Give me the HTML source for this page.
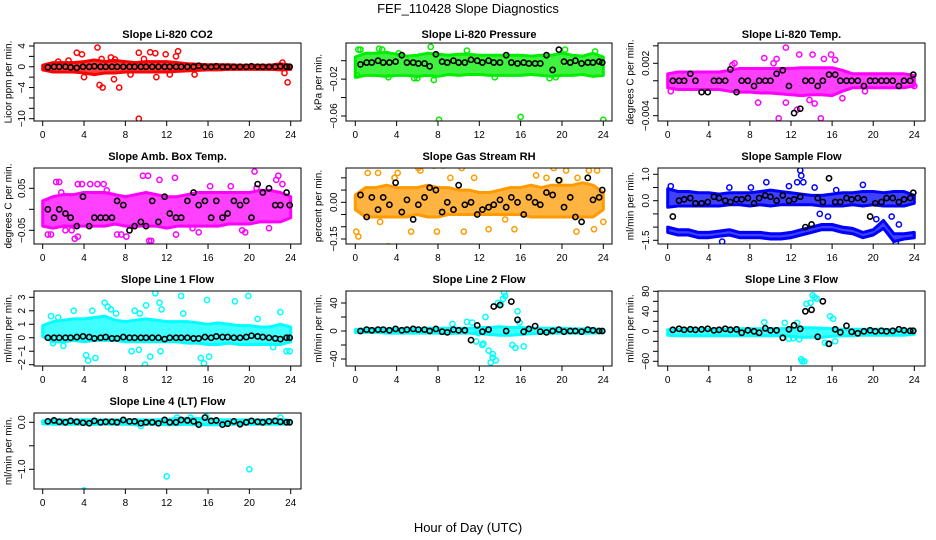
<!DOCTYPE html>
<html><head><meta charset="utf-8"><style>
body{margin:0;background:#fff}
svg{display:block;font-family:"Liberation Sans",Arial,sans-serif}
</style></head><body>
<svg id="chart" width="936" height="540" viewBox="0 0 936 540">
<text x="468" y="13" text-anchor="middle" font-size="13">FEF_110428  Slope Diagnostics</text>
<text x="468" y="532" text-anchor="middle" font-size="13">Hour of Day (UTC)</text>
</svg>
<script>
// shared time stamps of black summary points
const blackHours=[0.5,1.1,1.6,2.2,2.7,3.3,3.9,4.5,5.0,5.6,6.1,6.7,7.2,7.8,8.4,8.9,9.5,10.0,10.6,11.2,11.8,12.3,12.9,13.4,14.0,14.6,15.1,15.7,16.3,16.8,17.4,17.9,18.5,19.1,19.7,20.2,20.8,21.3,21.9,22.5,23.0,23.6,23.9];
const bandHours=[0,1,2,3,4,5,6,7,8,9,10,11,12,13,14,15,16,17,18,19,20,21,22,23,24];
const xTicks=[0,4,8,12,16,20,24];

// P1 CO2
const co2Lo=[-0.6,-1,-1,-1,-1.2,-1.5,-1.2,-1.2,-1,-1,-1,-1,-1,-0.9,-0.8,-0.7,-0.6,-0.6,-0.5,-0.5,-0.5,-0.5,-0.5,-0.6,-0.5];
const co2Hi=[0.3,0.8,0.8,0.8,1,1.3,1,1.2,1,0.8,1,1,1,0.8,0.6,0.5,0.4,0.4,0.4,0.3,0.3,0.3,0.3,0.6,0.3];
const co2OutX=[3.3,3.8,5.3,5.5,5.8,7.4,6.9,9.3,9.3,10.4,10.9,11.9,13.1,12.9,11,14.7,23.2,23.4,23.7,4,6.6,5.7,8.5,12.3,1.5,2.5,7,9.8];
const co2OutY=[2.7,2.4,3.7,-3.5,-4,-4,-2.4,2.7,-10,2.8,2.6,2.4,3,2,-2,-1.5,0.8,-1.2,-3,-2,1.8,1.5,-1.5,-1.5,1,1.2,1.4,1.5];
const co2Black=[-0.1,0,0,0,-0.1,-0.2,0,0,0.1,0,0,0,0,0,0,0,0,0,0,0,0,0,0,0,0,0,0.2,0,0,0.1,0,0,0,0,0,0.1,0,0,0,0,0.1,0,0];
const co2Ticks=[4,2,0,-2,-4,-6,-8,-10];const co2Labels=[4,0,-4,-10];

// P2 Pressure
const presLo=[-0.018,-0.016,-0.016,-0.017,-0.016,-0.016,-0.017,-0.016,-0.017,-0.015,-0.016,-0.015,-0.015,-0.016,-0.016,-0.016,-0.016,-0.015,-0.016,-0.017,-0.016,-0.016,-0.015,-0.017,-0.016];
const presHi=[0.004,0.008,0.008,0.009,0.007,0.005,0.006,0.008,0.007,0.006,0.007,0.007,0.006,0.006,0.006,0.006,0.006,0.005,0.006,0.006,0.008,0.006,0.005,0.008,0.004];
const presOutX=[0.3,0.5,2.3,2.6,7.3,8.1,16,24,7.6,5.7,13.5,18.8,20.3,23.2,3.2,0.2,4.2,10.8,19.4,6];
const presOutY=[0.012,0.012,0.013,0.012,0.015,-0.064,-0.061,-0.064,-0.021,-0.019,-0.018,-0.019,0.012,0.01,-0.018,-0.016,0.008,0.011,-0.018,-0.019];
const presBlack=[-0.004,-0.002,-0.002,0,-0.002,-0.002,-0.001,0.006,-0.002,-0.002,-0.003,-0.003,-0.006,0.007,-0.001,-0.002,0,-0.002,-0.002,0.001,0,-0.002,0,-0.002,-0.002,0.006,-0.002,-0.003,-0.002,-0.003,-0.003,-0.003,0.006,-0.010,0.012,-0.001,-0.002,0,-0.003,-0.002,-0.002,-0.001,-0.002];
const presTicks=[0,-0.02,-0.04,-0.06];const presLabels=[-0.02,-0.06];

// P3 Li-820 Temp
const ltLo=[-0.0008,-0.001,-0.001,-0.001,-0.001,-0.001,-0.0012,-0.0013,-0.0013,-0.0014,-0.0014,-0.0015,-0.0016,-0.0017,-0.0016,-0.0016,-0.0017,-0.0012,-0.0008,-0.0008,-0.0008,-0.0008,-0.0008,-0.0008,-0.0006];
const ltHi=[0.0008,0.001,0.001,0.001,0.001,0.001,0.0012,0.0014,0.0014,0.0014,0.0014,0.0014,0.0014,0.0015,0.0015,0.0015,0.0015,0.0012,0.0008,0.0008,0.0008,0.0008,0.0008,0.0008,0.0006];
const ltOutX=[0.3,6.5,9.4,10.3,10.6,11.5,12.8,14.1,15.2,15.9,12.6,10.8,14.9,8.8,11.5,14.3,17,19.2,24,16.3,6.3,13.8];
const ltOutY=[-0.0012,0.002,0.0026,0.002,0.0025,0.0038,0.003,0.003,0.0025,0.003,-0.0033,-0.0043,-0.0043,-0.0025,-0.0025,-0.0026,-0.002,-0.0012,-0.0006,0.0024,0.0018,-0.0022];
const ltBlack=[0,0,0,0.0008,0,-0.0013,-0.0013,0,0,0,0.0013,-0.0013,0,0,-0.0006,0,0,0,0.0008,0.0012,-0.0006,-0.0037,-0.0032,0,0,-0.0006,0,0.0007,0.0007,0,0,0,0,-0.0006,0,0,0,0,0,-0.0006,0,0,0.0007];
const ltTicks=[0.004,0.002,0,-0.002,-0.004];const ltLabels=[0.002,-0.004];

// P4 Amb box temp
const abLo=[-0.04,-0.045,-0.04,-0.04,-0.04,-0.04,-0.04,-0.035,-0.04,-0.04,-0.04,-0.04,-0.045,-0.04,-0.04,-0.04,-0.04,-0.04,-0.035,-0.035,-0.035,-0.03,-0.03,-0.03,-0.02];
const abHi=[0.02,0.03,0.035,0.035,0.04,0.04,0.04,0.035,0.03,0.035,0.04,0.035,0.03,0.03,0.035,0.04,0.04,0.04,0.04,0.04,0.04,0.045,0.045,0.04,0.03];
const abOutX=[0.5,0.8,1.3,1.6,1.8,3.4,3.8,4.6,5.3,5.9,6.2,7.6,9.7,10.2,10.5,11.3,12.8,2.2,2.8,3.4,7.2,8.1,10.3,12.9,15.1,19.3,19.6,20.5,21.9,22.6,22.8,23.2,20.7,3.1,14.5,16.2,18.2];
const abOutY=[-0.06,-0.06,0.065,0.065,0.04,0.06,0.06,0.06,0.06,0.06,0.045,-0.06,0.08,0.08,-0.075,0.07,0.075,-0.05,-0.05,-0.065,-0.06,-0.065,-0.075,-0.06,-0.055,-0.05,-0.055,0.09,-0.045,0.07,0.08,0.06,0.05,-0.07,-0.045,0.055,0.055];
const abBlack=[0,-0.02,0,-0.01,-0.02,-0.04,0.03,-0.04,-0.02,-0.02,-0.02,-0.02,0.02,0.01,-0.05,-0.04,-0.03,-0.04,0.02,-0.03,0.03,-0.01,-0.02,-0.02,0.02,0.04,0.01,0.02,-0.02,0.02,-0.02,-0.01,0.02,0.01,0.02,-0.02,0.06,0.04,0.05,0.01,0.01,0.04,0.01];
const abTicks=[0.05,0,-0.05];const abLabels=[0.05,-0.05];

// P5 RH
const rhLo=[-0.03,-0.06,-0.06,-0.06,-0.06,-0.06,-0.05,-0.06,-0.06,-0.05,-0.05,-0.05,-0.05,-0.05,-0.05,-0.05,-0.05,-0.06,-0.06,-0.06,-0.06,-0.06,-0.06,-0.06,-0.03];
const rhHi=[0.03,0.06,0.06,0.07,0.06,0.06,0.06,0.07,0.06,0.06,0.05,0.05,0.04,0.04,0.05,0.06,0.06,0.07,0.06,0.07,0.07,0.07,0.08,0.07,0.04];
const rhOutX=[0.1,0.3,1.2,2.2,2.4,3.2,3.8,4.1,5.4,6.1,6.3,7.6,7.9,8.5,9.2,10.3,10.5,11.5,12.9,13.8,14.5,15.4,17.5,18.5,19.2,19.8,20.4,20.8,21.4,21.5,22.6,23.1,23.4,24,3.8];
const rhOutY=[-0.12,-0.14,0.12,0.12,-0.08,-0.18,0.1,0.12,-0.12,0.14,0.13,0.15,-0.12,0.15,0.1,0.14,-0.12,0.1,-0.11,0.17,-0.07,-0.11,0.11,0.1,0.14,0.09,0.13,0.18,-0.12,0.1,0.13,-0.11,0.13,-0.08,0.1];
const rhBlack=[0.03,-0.06,0.02,-0.03,0.02,-0.01,0.08,-0.04,0.01,-0.07,-0.01,0.02,0.06,0.05,-0.04,0,-0.03,0.07,-0.01,0,-0.05,-0.03,-0.02,-0.01,0.01,-0.02,0.02,0,-0.05,0.02,0,-0.01,0.04,0.03,0.09,-0.02,0.02,-0.06,-0.08,0.1,0.01,0.02,0.05];
const rhTicks=[0.1,0.05,0,-0.05,-0.1,-0.15];const rhLabels=[0,-0.15];

// P6 Sample flow (two bands)
const sfLo=[-0.25,-0.2,-0.2,-0.2,-0.2,-0.2,-0.15,-0.15,-0.2,-0.15,-0.2,-0.15,-0.15,-0.15,-0.15,-0.2,-0.2,-0.2,-0.15,-0.2,-0.15,-0.2,-0.2,-0.2,-0.1];
const sfHi=[0.45,0.35,0.35,0.3,0.3,0.25,0.3,0.3,0.3,0.35,0.4,0.35,0.3,0.25,0.2,0.2,0.25,0.3,0.3,0.35,0.35,0.3,0.35,0.35,0.2];
const sfLo2=[-1.2,-1.3,-1.3,-1.4,-1.4,-1.35,-1.3,-1.4,-1.4,-1.4,-1.45,-1.45,-1.4,-1.3,-1.2,-1.1,-1.1,-1.2,-1.25,-1.4,-1.3,-1.05,-1.55,-1.45,-1.4];
const sfHi2=[-1.0,-1.1,-1.1,-1.2,-1.2,-1.15,-1.1,-1.2,-1.2,-1.2,-1.25,-1.25,-1.2,-1.1,-1.0,-0.9,-0.9,-1.0,-1.05,-1.2,-1.1,-0.75,-1.25,-1.25,-1.2];
const sfOutX=[5.3,9.6,12.9,13,13.2,12.6,14.3,14.8,15.6,16.4,19,21.8,22.2,22.5,20.3,6,8.1,11.8,0.3];
const sfOutY=[-1.55,0.7,1.15,0.95,0.7,0.7,0.5,-0.5,-0.6,0.4,0.6,-0.6,-1.6,-0.9,-0.7,0.5,0.5,0.55,0.55];
const sfBlack=[-0.6,0,0.05,0.1,-0.1,-0.1,-0.05,0.15,0.1,0,-0.05,0.05,0.05,0.1,-0.1,0.1,0.2,0.15,0,0.2,0,0.05,0.15,-1.0,-0.9,0.1,-0.05,0.85,-0.05,-0.05,0.1,0.05,0.1,0.05,-0.6,-0.1,-0.05,0.1,0.1,-0.05,0.05,0.1,0.3];
const sfTicks=[1,0.5,0,-0.5,-1,-1.5];const sfLabels=[1,0,-1.5];

// P7 Line 1
const l1Lo=[0.1,-0.3,-0.3,-0.2,-0.3,-0.2,-0.2,-0.2,-0.3,-0.3,-0.3,-0.3,-0.3,-0.3,-0.4,-0.4,-0.5,-0.5,-0.4,-0.5,-0.5,-0.5,-0.5,-0.5,-0.3];
const l1Hi=[0.9,1.2,1.3,1.4,1.4,1.5,1.6,1.3,1.2,1.3,1.4,1.3,1.2,1.2,1.2,1.1,1.0,1.1,1.0,0.9,0.9,0.8,0.8,1.0,0.8];
const l1OutX=[0.8,1.5,3,4.2,4.4,4.8,5.1,6,6.3,6.6,7.1,8.6,8.9,9.4,9.9,10,10.4,10.9,11.3,11.5,11.4,13.4,13.6,15.3,15.6,15.9,16.1,18.6,19.9,20.8,23,22.3,23.6,23.9,2,9.3,1];
const l1OutY=[1.6,1.5,2,-1.3,-1.7,2,-1.5,2.6,2.3,2.1,1.8,-1,2,1.8,-2,2.4,-1.4,3.3,2.6,2.1,-1,3.1,1.8,-1.5,-1.9,2.8,-1.4,2.7,3.1,1.4,1.9,-0.7,-1,-1,-0.6,-0.9,-0.4];
const l1Black=[0,0,0,0,0,0.05,0.1,0.05,-0.05,0,0.05,-0.05,-0.05,0.05,0,0,0,0,0,0,-0.1,0,0,0,0,-0.05,-0.05,0.05,0,0.1,0.05,0.05,0,0,0.05,0.15,0.1,0.05,0,-0.05,-0.1,0,0];
const l1Ticks=[3,2,1,0,-1,-2];const l1Labels=[3,2,1,0,-1,-2];

// P8 Line 2
const l2Lo=[-2,-2,-2,-3,-3,-3,-3,-3,-3,-4,-3,-3,-4,-5,-6,-6,-5,-4,-3,-3,-3,-3,-3,-3,-2];
const l2Hi=[2,3,3,3,3,3,3,4,4,4,4,4,5,5,6,5,5,4,4,4,4,3,3,3,2];
const l2OutX=[9.4,10.8,11.3,11.7,12.3,12.6,12.9,13.1,13.3,13.6,13.8,14.1,14.3,14.5,14.4,15.2,15.5,15.7,15.9,16.3,12.4,13.3,11.9];
const l2OutY=[10,13,12,-15,-20,20,-28,-45,-33,-42,40,38,46,50,55,-20,-24,28,12,-22,-18,-38,-3];
const l2Black=[0,2,1,2,2,1,3,1,2,3,2,2,0,3,-1,-2,2,1,1,-13,8,-1,2,35,37,0,42,16,-1,3,7,-1,-2,0,2,-1,0,0,-1,2,1,0,0];
const l2Ticks=[40,20,0,-20,-40];const l2Labels=[40,0,-40];

// P9 Line 3
const l3Lo=[-8,-9,-9,-9,-9,-9,-9,-9,-9,-9,-9,-9,-10,-12,-12,-12,-10,-9,-9,-8,-8,-8,-8,-8,-6];
const l3Hi=[3,4,4,4,4,4,4,5,5,5,5,5,6,7,7,6,5,4,4,4,4,4,3,3,2];
const l3OutX=[9.4,11.4,11.8,12.6,12.8,13,13.1,13.3,13.5,13.9,14.1,14.3,14.5,15.3,15.6,15.8,16.1,16.3,12.2];
const l3OutY=[18,17,-15,17,-16,-56,-60,-60,55,57,72,68,65,-23,-25,30,25,-20,-14];
const l3Black=[3,5,3,4,3,4,5,2,3,5,3,4,-3,2,0,-3,6,2,2,-13,4,12,5,40,43,-11,60,-25,4,-2,11,-1,-4,0,2,0,1,0,1,4,2,1,1];
const l3Ticks=[80,60,40,20,0,-20,-40,-60];const l3Labels=[80,40,0,-60];

// P10 Line 4
const l4Lo=[-0.03,-0.04,-0.04,-0.04,-0.04,-0.04,-0.04,-0.04,-0.04,-0.05,-0.04,-0.04,-0.05,-0.05,-0.04,-0.05,-0.05,-0.05,-0.04,-0.04,-0.04,-0.04,-0.04,-0.04,-0.03];
const l4Hi=[0.03,0.05,0.05,0.05,0.05,0.05,0.05,0.05,0.05,0.05,0.05,0.05,0.06,0.08,0.08,0.08,0.07,0.05,0.05,0.05,0.05,0.05,0.05,0.06,0.04];
const l4OutX=[4,12,20,13,14.3,15.8,23,9.5];
const l4OutY=[-1.45,-1.15,-1.0,0.1,0.1,0.12,0.1,-0.08];
const l4Black=[0.02,0.04,0.01,0,0.03,0.01,-0.01,-0.02,0.03,0,0.01,0.01,0,0.05,0.02,0.02,-0.02,0,0,-0.02,0.05,0,0,0.05,0.04,0.02,-0.05,0.1,0.03,0.04,-0.05,-0.03,0.02,-0.04,0,0.03,0.01,0,0.02,0.03,0.01,0,0];
const l4Ticks=[0,-0.5,-1];const l4Labels=[0,-1];

const cols=[{l:34,r:301,x0:42.7,x24:290.7,yl:9},{l:346,r:612,x0:355.3,x24:603.3,yl:319},{l:658,r:925,x0:667.7,x24:914.3,yl:631}];
const rows=[{t:43,b:121,ty:38},{t:168,b:244,ty:160},{t:291,b:366,ty:283},{t:413,b:489,ty:405}];

const panels=[
 {name:'co2',title:'Slope Li-820 CO2',ylab:'Licor ppm per min.',c:0,r:0,col:'#ff0000',ref:[4,46,-10,118.7],lo:co2Lo,hi:co2Hi,ox:co2OutX,oy:co2OutY,k:co2Black,ticks:co2Ticks,labels:co2Labels,dec:0},
 {name:'pressure',title:'Slope Li-820 Pressure',ylab:'kPa per min.',c:1,r:0,col:'#00ee00',ref:[0,60.7,-0.06,116],lo:presLo,hi:presHi,ox:presOutX,oy:presOutY,k:presBlack,ticks:presTicks,labels:presLabels,dec:2},
 {name:'li820-temp',title:'Slope Li-820 Temp.',ylab:'degrees C per min.',c:2,r:0,col:'#ff00ff',ref:[0.002,63.3,-0.004,115.7],lo:ltLo,hi:ltHi,ox:ltOutX,oy:ltOutY,k:ltBlack,ticks:ltTicks,labels:ltLabels,dec:3},
 {name:'amb-box-temp',title:'Slope Amb. Box Temp.',ylab:'degrees C per min.',c:0,r:1,col:'#ff00ff',ref:[0.05,188.3,-0.05,230.3],lo:abLo,hi:abHi,ox:abOutX,oy:abOutY,k:abBlack,ticks:abTicks,labels:abLabels,dec:2},
 {name:'gas-stream-rh',title:'Slope Gas Stream RH',ylab:'percent per min.',c:1,r:1,col:'#ff9a00',ref:[0,202.3,-0.15,239],lo:rhLo,hi:rhHi,ox:rhOutX,oy:rhOutY,k:rhBlack,ticks:rhTicks,labels:rhLabels,dec:2},
 {name:'sample-flow',title:'Slope Sample Flow',ylab:'ml/min per min.',c:2,r:1,col:'#0000ff',ref:[1,174.3,-1.5,240.3],lo:sfLo,hi:sfHi,lo2:sfLo2,hi2:sfHi2,ox:sfOutX,oy:sfOutY,k:sfBlack,ticks:sfTicks,labels:sfLabels,dec:1},
 {name:'line1-flow',title:'Slope Line 1 Flow',ylab:'ml/min per min.',c:0,r:2,col:'#00ffff',ref:[3,297.3,-2,364.7],lo:l1Lo,hi:l1Hi,ox:l1OutX,oy:l1OutY,k:l1Black,ticks:l1Ticks,labels:l1Labels,dec:0},
 {name:'line2-flow',title:'Slope Line 2 Flow',ylab:'ml/min per min.',c:1,r:2,col:'#00ffff',ref:[40,303,-40,359],lo:l2Lo,hi:l2Hi,ox:l2OutX,oy:l2OutY,k:l2Black,ticks:l2Ticks,labels:l2Labels,dec:0},
 {name:'line3-flow',title:'Slope Line 3 Flow',ylab:'ml/min per min.',c:2,r:2,col:'#00ffff',ref:[40,311.3,-60,361.3],lo:l3Lo,hi:l3Hi,ox:l3OutX,oy:l3OutY,k:l3Black,ticks:l3Ticks,labels:l3Labels,dec:0},
 {name:'line4-flow',title:'Slope Line 4 (LT) Flow',ylab:'ml/min per min.',c:0,r:3,col:'#00ffff',ref:[0,422.3,-1,469.3],lo:l4Lo,hi:l4Hi,ox:l4OutX,oy:l4OutY,k:l4Black,ticks:l4Ticks,labels:l4Labels,dec:1}
];

const NS='http://www.w3.org/2000/svg';
const svg=document.getElementById('chart');
function mk(tag,attrs,parent){const e=document.createElementNS(NS,tag);for(const a in attrs)e.setAttribute(a,attrs[a]);(parent||svg).appendChild(e);return e;}
function fmt(v,d){const s=v.toFixed(d);return s.replace('-','\u2212');}

panels.forEach(p=>{
  const C=cols[p.c],R=rows[p.r];
  const xs=h=>C.x0+(C.x24-C.x0)*h/24;
  const [v1,p1,v2,p2]=p.ref;
  const ys=v=>p1+(v-v1)*(p2-p1)/(v2-v1);
  const g=mk('g',{});
  
  
  const clipId='clip-'+p.name;
  const cp=mk('clipPath',{id:clipId},g);mk('rect',{x:C.l,y:R.t,width:C.r-C.l,height:R.b-R.t},cp);
  const plot=mk('g',{'clip-path':'url(#'+clipId+')'},g);
  
  
  function band(lo,hi,nm){
    let d='M'+bandHours.map((h,i)=>xs(h).toFixed(1)+','+ys(hi[i]).toFixed(1)).join('L');
    d+='L'+bandHours.slice().reverse().map((h,j)=>{const i=bandHours.length-1-j;return xs(h).toFixed(1)+','+ys(lo[i]).toFixed(1);}).join('L')+'Z';
    const b=mk('path',{d:d,fill:p.col,'fill-opacity':0.75,stroke:p.col,'stroke-width':3,'stroke-linejoin':'round'},plot);
    
    
  }
  band(p.lo,p.hi,p.name+'-point-cloud');
  if(p.lo2)band(p.lo2,p.hi2,p.name+'-point-cloud-lower');
  p.ox.forEach((x,i)=>{
    if(p.oy[i]===undefined)return;
    const c=mk('circle',{cx:xs(x),cy:ys(p.oy[i]),r:2.6,fill:'none',stroke:p.col,'stroke-width':1.5},plot);
    
    
  });
  blackHours.forEach((h,i)=>{
    if(p.k[i]===undefined)return;
    const c=mk('circle',{cx:xs(h),cy:ys(p.k[i]),r:2.6,fill:'none',stroke:'#000','stroke-width':1.6},plot);
    
    
  });
  const box=mk('rect',{x:C.l,y:R.t,width:C.r-C.l,height:R.b-R.t,fill:'none',stroke:'#000','stroke-width':1},g);
  
  
  const t=mk('text',{x:(C.l+C.r)/2,y:R.ty,'text-anchor':'middle','font-size':11,'font-weight':'bold'},g);
  t.textContent=p.title;
  
  
  const xa=mk('g',{},g);
  
  
  mk('line',{x1:xs(0),x2:xs(24),y1:R.b,y2:R.b,stroke:'#000'},xa);
  xTicks.forEach(v=>{
    mk('line',{x1:xs(v),x2:xs(v),y1:R.b,y2:R.b+5,stroke:'#000'},xa);
    const tl=mk('text',{x:xs(v),y:R.b+17,'text-anchor':'middle','font-size':10},xa);
    tl.textContent=v;
    
    
  });
  const ya=mk('g',{},g);
  
  
  const tmin=Math.min(...p.ticks),tmax=Math.max(...p.ticks);
  mk('line',{x1:C.l,x2:C.l,y1:ys(tmax),y2:ys(tmin),stroke:'#000'},ya);
  p.ticks.forEach(v=>mk('line',{x1:C.l-5,x2:C.l,y1:ys(v),y2:ys(v),stroke:'#000'},ya));
  p.labels.forEach(v=>{
    const x=C.l-9,y=ys(v);
    const tl=mk('text',{x:x,y:y,'text-anchor':'middle','font-size':10,transform:'rotate(-90 '+x+' '+y+')'},ya);
    tl.textContent=fmt(v,p.dec);
    
    
  });
  const ym=(R.t+R.b)/2;
  const yl=mk('text',{x:C.yl,y:ym,'text-anchor':'middle','font-size':10,'dominant-baseline':'middle',transform:'rotate(-90 '+C.yl+' '+ym+')'},g);
  yl.textContent=p.ylab;
  
  
});
</script>
</body></html>
